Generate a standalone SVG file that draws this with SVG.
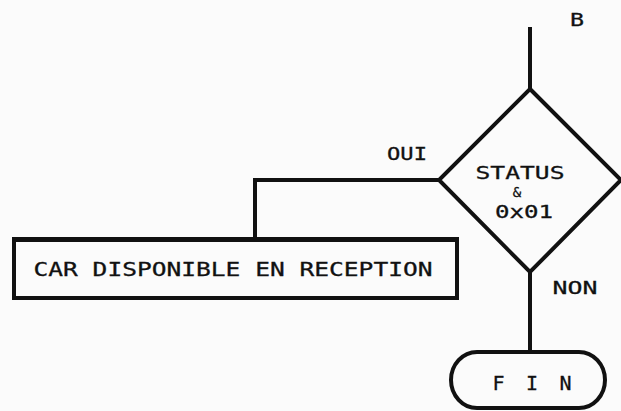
<svg xmlns="http://www.w3.org/2000/svg" width="621" height="411" viewBox="0 0 621 411">
  <style>
    .shape { fill: none; stroke: #111; stroke-width: 4; stroke-linejoin: miter; }
    .wire { fill: none; stroke: #111; stroke-width: 4; }
    .lbl { font-family: "DejaVu Sans Mono", "Liberation Mono", monospace; fill: #111; stroke: #111; stroke-width: 0.3; text-anchor: middle; }
  </style>
  <rect width="621" height="411" fill="#fbfbfb"/>

  <!-- connectors -->
  <g id="connectors">
    <line class="wire" x1="530" y1="27" x2="530" y2="89"/>
    <polyline class="wire" points="439,180 255,180 255,239"/>
    <line class="wire" x1="530" y1="272" x2="530" y2="352"/>
    <text class="lbl" x="577" y="26" font-size="18" textLength="14" lengthAdjust="spacingAndGlyphs">B</text>
    <text class="lbl" x="407" y="160" font-size="17" textLength="40" lengthAdjust="spacingAndGlyphs">OUI</text>
    <text class="lbl" x="575" y="294" font-size="18" textLength="45" lengthAdjust="spacingAndGlyphs">NON</text>
  </g>

  <!-- decision: STATUS & 0x01 -->
  <g id="decision">
    <polygon class="shape" points="530,89 621,180 530,272 439,180"/>
    <text class="lbl" x="520" y="179" font-size="17" textLength="89" lengthAdjust="spacingAndGlyphs">STATUS</text>
    <text class="lbl" x="517" y="197" font-size="14">&amp;</text>
    <text class="lbl" x="524" y="218" font-size="17" textLength="58" lengthAdjust="spacingAndGlyphs">0x01</text>
  </g>

  <!-- process: character available -->
  <g id="process">
    <rect class="shape" x="14" y="239" width="443" height="59"/>
    <line class="wire" x1="12" y1="240" x2="459" y2="240" stroke-width="5"/>
    <text class="lbl" x="233" y="276" font-size="19" textLength="399" lengthAdjust="spacingAndGlyphs">CAR DISPONIBLE EN RECEPTION</text>
  </g>

  <!-- terminator: FIN -->
  <g id="end">
    <rect class="shape" x="451" y="352" width="154" height="56" rx="26" ry="28"/>
    <text class="lbl" x="532" y="390" font-size="20" textLength="79" lengthAdjust="spacing">F I N</text>
  </g>
</svg>
